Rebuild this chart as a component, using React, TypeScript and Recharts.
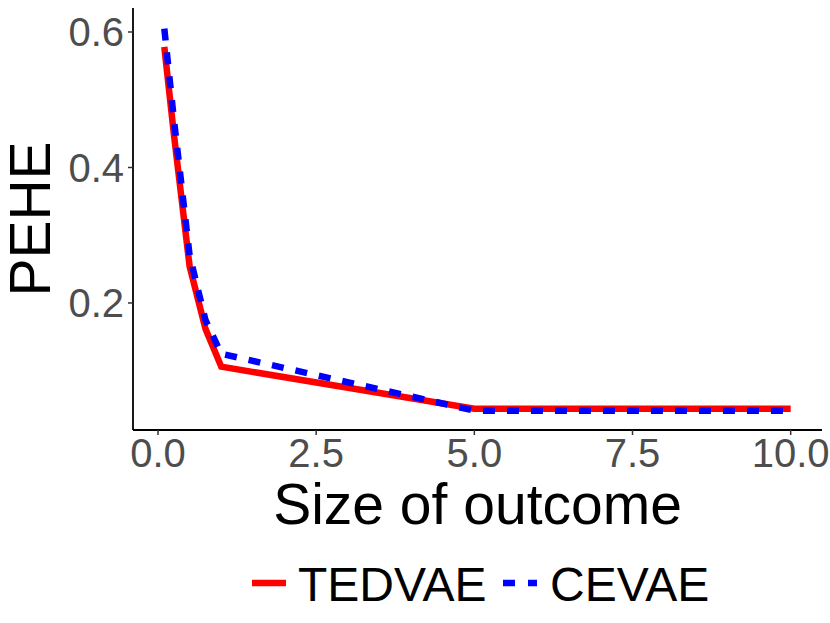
import React from 'react';
import { LineChart, Line, XAxis, YAxis, Legend, Label } from 'recharts';

const sizes = [0.1, 0.25, 0.5, 0.75, 1, 5, 10];
const tedvae = [0.578, 0.45, 0.254, 0.162, 0.106, 0.044, 0.044];
const cevae = [0.605, 0.472, 0.27, 0.175, 0.125, 0.041, 0.041];
const xTicks = [0, 2.5, 5, 7.5, 10];
const yTicks = [0.2, 0.4, 0.6];
const seriesNames = ['TEDVAE', 'CEVAE'];

const data = sizes.map((s, i) => ({ size: s, TEDVAE: tedvae[i], CEVAE: cevae[i] }));

const FONT = '"Liberation Sans", Arial, Helvetica, sans-serif';
const RED = '#FF0000';
const BLUE = '#0000FF';

const LegendContent = () => (
  <svg width={830} height={80} style={{ display: 'block' }}>
    <line x1={252} x2={286} y1={43} y2={43} stroke={RED} strokeWidth={6.5} />
    <text x={298} y={61} fontFamily={FONT} fontSize={48} fill="#000">{seriesNames[0]}</text>
    <line x1={503} x2={537} y1={43} y2={43} stroke={BLUE} strokeWidth={6.5} strokeDasharray="12 13" />
    <text x={550} y={61} fontFamily={FONT} fontSize={48} fill="#000">{seriesNames[1]}</text>
  </svg>
);

export default function App() {
  return (
    <div style={{ position: 'absolute', left: 0, top: 0, width: 830, height: 623, background: '#fff' }}>
      <LineChart width={830} height={623} data={data} margin={{ top: 8, right: 8, left: 0, bottom: 0 }}>
        <XAxis
          dataKey="size"
          type="number"
          domain={[-0.395, 10.495]}
          ticks={xTicks}
          tickFormatter={(v: number) => v.toFixed(1)}
          height={193}
          axisLine={{ stroke: '#000', strokeWidth: 1.8 }}
          tickLine={{ stroke: '#333', strokeWidth: 1.5 }}
          tickSize={5}
          tickMargin={4}
          tick={{ fill: '#4D4D4D', fontSize: 40, fontFamily: FONT }}
          allowDataOverflow
        >
          <Label
            content={({ viewBox }: any) => (
              <text
                x={viewBox.x + viewBox.width / 2}
                y={viewBox.y + 94}
                textAnchor="middle"
                fontFamily={FONT}
                fontSize={57}
                fill="#000"
              >
                Size of outcome
              </text>
            )}
          />
        </XAxis>
        <YAxis
          type="number"
          domain={[0.0125, 0.6354]}
          ticks={yTicks}
          tickFormatter={(v: number) => v.toFixed(1)}
          width={133}
          axisLine={{ stroke: '#000', strokeWidth: 1.8 }}
          tickLine={{ stroke: '#333', strokeWidth: 1.5 }}
          tickSize={5}
          tickMargin={4}
          tick={{ fill: '#4D4D4D', fontSize: 40, fontFamily: FONT }}
          allowDataOverflow
        >
          <Label
            content={({ viewBox }: any) => {
              const cx = 50;
              const cy = viewBox.y + viewBox.height / 2;
              return (
                <text
                  x={cx}
                  y={cy}
                  transform={`rotate(-90, ${cx}, ${cy})`}
                  textAnchor="middle"
                  fontFamily={FONT}
                  fontSize={57}
                  fill="#000"
                >
                  PEHE
                </text>
              );
            }}
          />
        </YAxis>
        <Line
          type="linear"
          dataKey="TEDVAE"
          stroke={RED}
          strokeWidth={6.5}
          dot={false}
          activeDot={false}
          isAnimationActive={false}
        />
        <Line
          type="linear"
          dataKey="CEVAE"
          stroke={BLUE}
          strokeWidth={6.5}
          strokeDasharray="12 12"
          dot={false}
          activeDot={false}
          isAnimationActive={false}
        />
        <Legend
          layout="horizontal"
          verticalAlign="middle"
          align="center"
          content={() => <LegendContent />}
          wrapperStyle={{ position: 'absolute', left: 0, top: 540, width: 830, height: 80 }}
        />
      </LineChart>
    </div>
  );
}
